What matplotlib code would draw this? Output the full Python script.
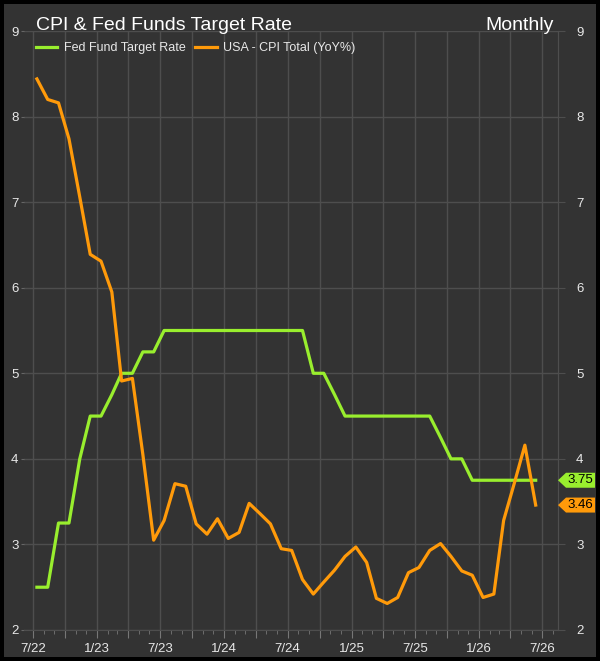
import numpy as np
import pandas as pd
import matplotlib
matplotlib.use("Agg")
import matplotlib.pyplot as plt
import matplotlib.dates as mdates
from matplotlib.patches import Rectangle, Polygon
from matplotlib.transforms import blended_transform_factory

plt.rcParams['font.family'] = ['Liberation Sans', 'DejaVu Sans']

# monthly observations, Jul 2022 .. Jun 2026
dates = pd.date_range("2022-07-01", periods=48, freq="MS") + pd.Timedelta(days=12)

fed_funds = [2.50, 2.50, 3.25, 3.25, 4.00, 4.50, 4.50, 4.75, 5.00, 5.00, 5.25, 5.25,
             5.50, 5.50, 5.50, 5.50, 5.50, 5.50, 5.50, 5.50, 5.50, 5.50, 5.50, 5.50,
             5.50, 5.50, 5.00, 5.00, 4.75, 4.50, 4.50, 4.50, 4.50, 4.50, 4.50, 4.50,
             4.50, 4.50, 4.25, 4.00, 4.00, 3.75, 3.75, 3.75, 3.75, 3.75, 3.75, 3.75]

cpi = [8.44, 8.20, 8.16, 7.74, 7.06, 6.39, 6.31, 5.95, 4.91, 4.94, 4.05, 3.05,
       3.28, 3.71, 3.68, 3.24, 3.12, 3.30, 3.07, 3.14, 3.48, 3.36, 3.24, 2.95,
       2.93, 2.59, 2.42, 2.56, 2.70, 2.86, 2.97, 2.79, 2.37, 2.31, 2.38, 2.67,
       2.73, 2.93, 3.01, 2.86, 2.69, 2.64, 2.38, 2.42, 3.28, 3.72, 4.16, 3.46]

series_names = ["Fed Fund Target Rate", "USA - CPI Total (YoY%)"]
last_labels = ["3.75", "3.46"]

GREEN = "#99ee2e"
ORANGE = "#ff9a0a"
PANEL = "#333333"
GRID = "#4e4e4e"
TXT = "#e8e8e8"

W, H = 600, 661
fig = plt.figure(figsize=(W / 100, H / 100), dpi=100, facecolor="black")
fig.patches.append(Rectangle((4 / W, 4 / H), 592 / W, 653 / H, transform=fig.transFigure,
                             facecolor=PANEL, edgecolor="none", zorder=-5))

ax = fig.add_axes([24 / W, 31 / H, 534 / W, 599 / H])
ax.set_facecolor(PANEL)

ax.plot(dates, fed_funds, color=GREEN, lw=2.3, label=series_names[0], zorder=3)
ax.plot(dates, cpi, color=ORANGE, lw=2.3, label=series_names[1], zorder=3)

ax.set_ylim(2, 9)
ax.set_xlim(pd.Timestamp("2022-06-06"), pd.Timestamp("2026-08-16"))

ax.xaxis.set_major_locator(mdates.MonthLocator(bymonth=[1, 4, 7, 10]))
ax.xaxis.set_minor_locator(mdates.MonthLocator())
ax.xaxis.set_major_formatter(plt.FuncFormatter(
    lambda v, p: "" if mdates.num2date(v).month in (4, 10)
    else f"{mdates.num2date(v).month}/{mdates.num2date(v).year % 100:02d}"))
ax.yaxis.set_major_locator(plt.MultipleLocator(1))

ax.grid(True, which="major", color=GRID, lw=1)
for s in ["top", "left"]:
    ax.spines[s].set_visible(False)
ax.spines["bottom"].set_color(GRID)
ax.spines["right"].set_color(GRID)

ax.tick_params(axis="x", which="major", length=6, color="#777777", labelcolor=TXT,
               labelsize=9.5, pad=3)
ax.tick_params(axis="x", which="minor", length=3, color="#777777")
ax.tick_params(axis="y", left=True, length=2, color="#666666", labelcolor=TXT,
               labelsize=9.5, pad=2)

ax2 = ax.twinx()
ax2.set_ylim(ax.get_ylim())
ax2.yaxis.set_major_locator(plt.MultipleLocator(1))
ax2.tick_params(axis="y", length=5, color=GRID, labelcolor=TXT, labelsize=9.5, pad=8)
for s in ["top", "left", "bottom"]:
    ax2.spines[s].set_visible(False)
ax2.spines["right"].set_color(GRID)

# last value tags on the right edge
tr = blended_transform_factory(ax.transAxes, ax.transData)
half = 7.5 / 85.6
x0, x1, x2 = 1.0, 1.0 + 8 / 534, 1.0 + 37 / 534
for val, lab, col in [(fed_funds[-1], last_labels[0], GREEN), (cpi[-1], last_labels[1], ORANGE)]:
    poly = Polygon([(x0, val), (x1, val + half), (x2, val + half), (x2, val - half), (x1, val - half)],
                   closed=True, transform=tr, facecolor=col, edgecolor="none", clip_on=False, zorder=5)
    ax2.add_patch(poly)
    ax2.text((x1 + x2) / 2, val, lab, transform=tr, ha="center", va="center",
             fontsize=9.5, color="black", clip_on=False, zorder=6)

fig.text(36 / W, 1 - 30 / H, "CPI & Fed Funds Target Rate", color="white", fontsize=14,
         ha="left", va="baseline")
fig.text(554 / W, 1 - 30 / H, "Monthly", color="white", fontsize=14, ha="right", va="baseline")

leg = fig.legend(loc="center left", bbox_to_anchor=(36 / W, 1 - 48 / H), ncol=2, frameon=False,
                 fontsize=9, labelcolor=TXT, handlelength=1.7, handletextpad=0.5,
                 columnspacing=0.8, borderpad=0, borderaxespad=0)

fig.savefig("out.png", dpi=100, facecolor=fig.get_facecolor())
